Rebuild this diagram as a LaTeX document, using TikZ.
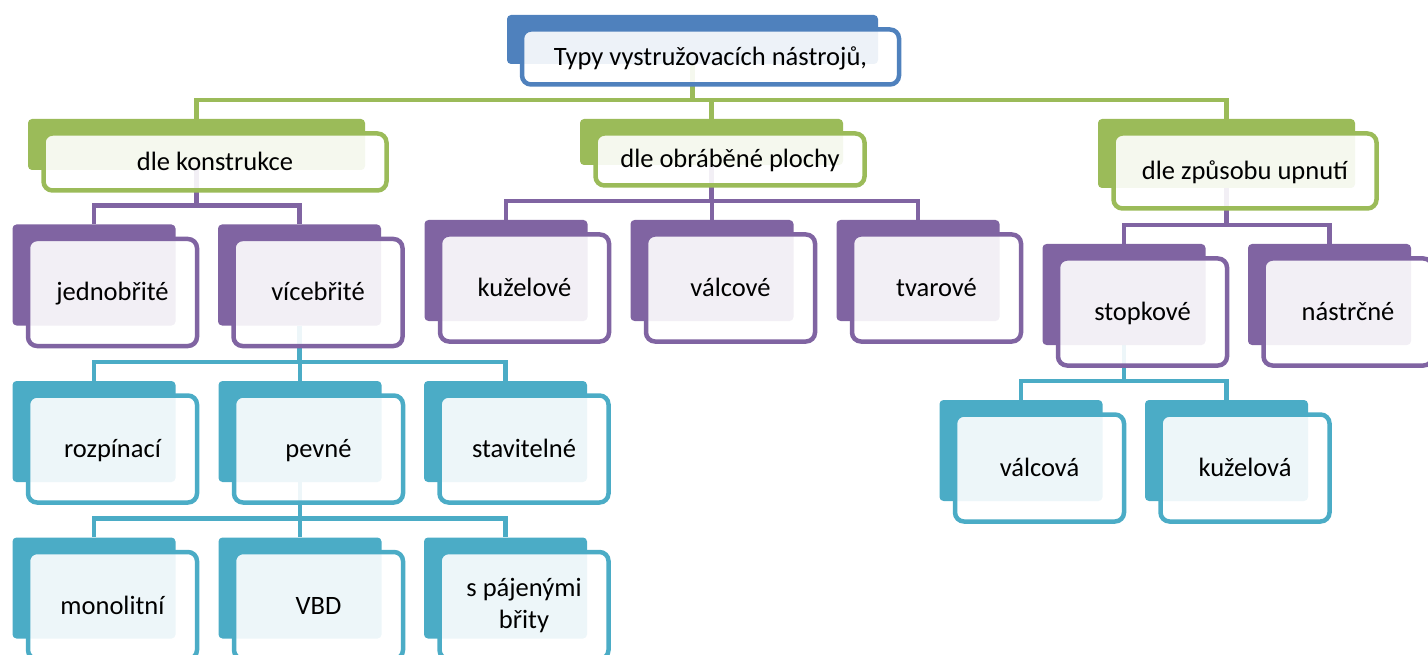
\documentclass[tikz,border=0pt]{standalone}
\usepackage{fontspec}
\setmainfont{Carlito}
\usetikzlibrary{positioning,calc}
\pgfdeclarelayer{spoje}
\pgfsetlayers{spoje,main}
\definecolor{modra}{HTML}{4F81BD}
\definecolor{zelena}{HTML}{9BBB59}
\definecolor{fialova}{HTML}{8064A2}
\definecolor{tyrkys}{HTML}{4BACC6}

\begin{document}
\begin{tikzpicture}[x=1pt, y=-1pt,
    zadni/.style={rectangle, rounded corners=4pt, fill=#1, inner sep=0pt,
        minimum width=163pt, minimum height=101pt},
    predni/.style={rectangle, rounded corners=9pt, draw=#1, line width=4.5pt,
        fill=white, fill opacity=0.9, text opacity=1, inner sep=0pt,
        minimum width=169pt, minimum height=107pt, align=center,
        font=\fontsize{26.5}{32.3}\selectfont},
    radek/.style={text height=23pt, text depth=6pt},
    spoj/.style={draw=#1, line width=4.5pt}]

    \useasboundingbox (0,0) rectangle (1428,655);
    \clip (0,0) rectangle (1428,655);

    % koren
    \node[zadni=modra, minimum width=371pt, minimum height=49pt] (typy-b) at (692.5,39.5) {};
    \node[predni=modra, radek, minimum width=377pt, minimum height=55pt] (typy)
        at ([shift={(18,17.5)}]typy-b.center) {Typy vystružovacích nástrojů,};

    % druhá úroveň
    \foreach \jm/\px/\py/\sir/\vys/\popis in {kons/196.5/144.5/337/51/dle konstrukce,
            obr/711.5/142/263/46/dle obráběné plochy,
            upn/1226.5/153.5/257/69/dle způsobu upnutí}{
        \node[zadni=zelena, minimum width=\sir pt, minimum height=\vys pt] (\jm-b) at (\px,\py) {};
        \node[predni=zelena, radek, minimum width=\sir pt+6pt, minimum height=\vys pt+6pt] (\jm)
            at ([shift={(18.5,17.5)}]\jm-b.center) {\popis};
    }

    \foreach \jm/\px/\py/\barva/\popis in {jedn/94/275/fialova/jednobřité,
            vice/299.5/275/fialova/vícebřité,
            kuz/506/270.5/fialova/kuželové,
            valc/712/270.5/fialova/válcové,
            tvar/918/270.5/fialova/tvarové,
            stop/1124/294.5/fialova/stopkové,
            nastr/1329.5/294.5/fialova/nástrčné,
            rozp/94/431.5/tyrkys/rozpínací,
            pev/300/431.5/tyrkys/pevné,
            stav/505.5/431.5/tyrkys/stavitelné,
            mono/94/588/tyrkys/monolitní,
            vbd/300/588/tyrkys/VBD,
            valca/1021/450.5/tyrkys/válcová,
            kuza/1226.5/450.5/tyrkys/kuželová}{
        \node[zadni=\barva] (\jm-b) at (\px,\py) {};
        \node[predni=\barva, radek] (\jm) at ([shift={(18.5,17.5)}]\jm-b.center) {\popis};
    }

    \node[zadni=tyrkys] (spaj-b) at (505.5,588) {};
    \node[predni=tyrkys] (spaj) at ([shift={(18.5,17.5)}]spaj-b.center) {s pájenými\\ břity};

    % spojnice
    \begin{pgfonlayer}{spoje}
        \foreach \z/\k/\barva in {typy/kons/zelena, typy/obr/zelena, typy/upn/zelena,
                kons/jedn/fialova, kons/vice/fialova,
                obr/kuz/fialova, obr/valc/fialova, obr/tvar/fialova,
                upn/stop/fialova, upn/nastr/fialova,
                vice/rozp/tyrkys, vice/pev/tyrkys, vice/stav/tyrkys,
                pev/mono/tyrkys, pev/vbd/tyrkys, pev/spaj/tyrkys,
                stop/valca/tyrkys, stop/kuza/tyrkys}{
            \draw[spoj=\barva] (\z-b.south) |- ([yshift=19pt]\k-b.north) -- (\k-b.north);
        }
    \end{pgfonlayer}

\end{tikzpicture}
\end{document}
